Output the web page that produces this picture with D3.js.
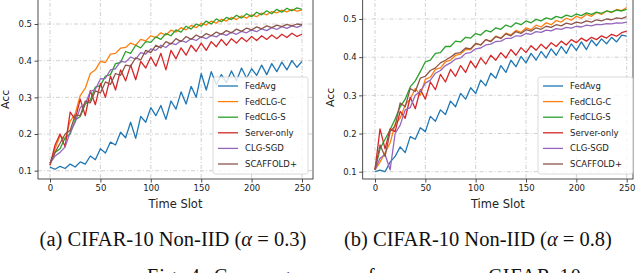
<!DOCTYPE html>
<html>
<head>
<meta charset="utf-8">
<script src="https://cdn.jsdelivr.net/npm/d3@7"></script>
<style>
  body { margin: 0; background: #fff; }
  svg { display: block; }
</style>
</head>
<body>
<svg id="fig" width="640" height="273"></svg>
<script>
// time slots (every 5th slot)
const timeSlots = d3.range(0, 251, 5);
const seriesNames = ["FedAvg", "FedCLG-C", "FedCLG-S", "Server-only", "CLG-SGD", "SCAFFOLD+"];
const seriesColors = ["#1f77b4", "#ff7f0e", "#2ca02c", "#d62728", "#9467bd", "#8c564b"];
const xTicks = [0, 50, 100, 150, 200, 250];
const yTicks = [0.1, 0.2, 0.3, 0.4, 0.5];

// (a) alpha = 0.3
const fedAvgA = [0.110, 0.104, 0.112, 0.106, 0.118, 0.110, 0.124, 0.118, 0.140, 0.130, 0.160, 0.148, 0.178, 0.170, 0.205, 0.190, 0.232, 0.188, 0.248, 0.232, 0.272, 0.250, 0.278, 0.240, 0.290, 0.268, 0.315, 0.282, 0.330, 0.300, 0.365, 0.320, 0.370, 0.335, 0.362, 0.340, 0.372, 0.345, 0.380, 0.352, 0.378, 0.360, 0.388, 0.362, 0.392, 0.370, 0.396, 0.375, 0.400, 0.382, 0.398];
const fedClgCA = [0.115, 0.160, 0.195, 0.185, 0.235, 0.255, 0.305, 0.325, 0.365, 0.375, 0.398, 0.395, 0.418, 0.420, 0.434, 0.436, 0.448, 0.442, 0.458, 0.454, 0.468, 0.463, 0.476, 0.470, 0.483, 0.478, 0.490, 0.484, 0.496, 0.490, 0.502, 0.497, 0.508, 0.502, 0.513, 0.508, 0.518, 0.512, 0.522, 0.516, 0.525, 0.520, 0.530, 0.525, 0.534, 0.530, 0.538, 0.533, 0.540, 0.535, 0.538];
const fedClgSA = [0.120, 0.150, 0.160, 0.190, 0.200, 0.238, 0.248, 0.282, 0.292, 0.328, 0.332, 0.358, 0.362, 0.392, 0.395, 0.425, 0.420, 0.442, 0.435, 0.452, 0.450, 0.465, 0.458, 0.474, 0.468, 0.484, 0.478, 0.494, 0.486, 0.500, 0.494, 0.508, 0.500, 0.514, 0.506, 0.518, 0.512, 0.524, 0.516, 0.528, 0.520, 0.532, 0.525, 0.536, 0.528, 0.540, 0.532, 0.543, 0.536, 0.544, 0.540];
const serverA = [0.115, 0.170, 0.200, 0.165, 0.260, 0.240, 0.295, 0.250, 0.318, 0.280, 0.338, 0.300, 0.358, 0.320, 0.375, 0.345, 0.388, 0.348, 0.398, 0.380, 0.410, 0.385, 0.420, 0.375, 0.428, 0.405, 0.435, 0.415, 0.442, 0.425, 0.448, 0.428, 0.452, 0.438, 0.458, 0.442, 0.460, 0.448, 0.463, 0.452, 0.466, 0.455, 0.468, 0.458, 0.470, 0.460, 0.472, 0.463, 0.475, 0.466, 0.472];
const clgSgdA = [0.120, 0.140, 0.150, 0.165, 0.205, 0.232, 0.272, 0.282, 0.316, 0.322, 0.350, 0.352, 0.375, 0.378, 0.398, 0.396, 0.410, 0.404, 0.422, 0.418, 0.432, 0.428, 0.442, 0.436, 0.448, 0.444, 0.455, 0.450, 0.460, 0.455, 0.465, 0.460, 0.469, 0.465, 0.474, 0.469, 0.477, 0.472, 0.480, 0.476, 0.484, 0.479, 0.487, 0.482, 0.490, 0.485, 0.493, 0.488, 0.495, 0.491, 0.496];
const scaffoldA = [0.120, 0.150, 0.175, 0.200, 0.210, 0.252, 0.250, 0.290, 0.285, 0.318, 0.312, 0.342, 0.335, 0.365, 0.360, 0.388, 0.385, 0.408, 0.402, 0.428, 0.422, 0.442, 0.435, 0.452, 0.445, 0.460, 0.452, 0.466, 0.458, 0.470, 0.463, 0.474, 0.468, 0.478, 0.472, 0.482, 0.476, 0.486, 0.480, 0.489, 0.484, 0.492, 0.487, 0.495, 0.490, 0.497, 0.493, 0.499, 0.495, 0.500, 0.498];

// (b) alpha = 0.8
const fedAvgB = [0.100, 0.104, 0.100, 0.125, 0.140, 0.165, 0.150, 0.192, 0.185, 0.215, 0.205, 0.245, 0.232, 0.262, 0.250, 0.285, 0.270, 0.305, 0.290, 0.320, 0.305, 0.340, 0.325, 0.358, 0.345, 0.378, 0.360, 0.392, 0.375, 0.402, 0.385, 0.410, 0.392, 0.415, 0.398, 0.422, 0.405, 0.428, 0.410, 0.435, 0.418, 0.440, 0.420, 0.445, 0.430, 0.448, 0.435, 0.452, 0.440, 0.458, 0.455];
const fedClgCB = [0.105, 0.125, 0.150, 0.175, 0.225, 0.240, 0.275, 0.290, 0.318, 0.300, 0.342, 0.348, 0.368, 0.372, 0.388, 0.392, 0.405, 0.408, 0.420, 0.420, 0.435, 0.432, 0.446, 0.442, 0.455, 0.450, 0.463, 0.458, 0.470, 0.465, 0.477, 0.472, 0.484, 0.479, 0.490, 0.485, 0.496, 0.492, 0.502, 0.497, 0.507, 0.502, 0.512, 0.507, 0.517, 0.512, 0.521, 0.517, 0.525, 0.522, 0.530];
const fedClgSB = [0.105, 0.160, 0.185, 0.210, 0.238, 0.270, 0.290, 0.322, 0.338, 0.362, 0.388, 0.392, 0.410, 0.412, 0.428, 0.428, 0.442, 0.440, 0.452, 0.450, 0.462, 0.458, 0.470, 0.466, 0.477, 0.473, 0.484, 0.479, 0.490, 0.485, 0.495, 0.490, 0.499, 0.495, 0.503, 0.499, 0.507, 0.503, 0.510, 0.506, 0.513, 0.509, 0.516, 0.512, 0.518, 0.515, 0.521, 0.518, 0.523, 0.521, 0.525];
const serverB = [0.105, 0.212, 0.160, 0.212, 0.205, 0.258, 0.240, 0.295, 0.265, 0.315, 0.290, 0.335, 0.315, 0.355, 0.335, 0.368, 0.350, 0.378, 0.360, 0.390, 0.372, 0.398, 0.382, 0.405, 0.392, 0.412, 0.398, 0.420, 0.405, 0.425, 0.412, 0.430, 0.418, 0.434, 0.422, 0.438, 0.428, 0.442, 0.432, 0.446, 0.438, 0.450, 0.442, 0.452, 0.446, 0.456, 0.450, 0.460, 0.455, 0.464, 0.468];
const clgSgdB = [0.105, 0.135, 0.145, 0.105, 0.200, 0.222, 0.262, 0.268, 0.300, 0.310, 0.332, 0.340, 0.358, 0.365, 0.378, 0.385, 0.395, 0.398, 0.410, 0.412, 0.422, 0.424, 0.432, 0.434, 0.441, 0.442, 0.449, 0.449, 0.456, 0.455, 0.462, 0.460, 0.467, 0.465, 0.471, 0.469, 0.475, 0.473, 0.478, 0.476, 0.481, 0.479, 0.484, 0.482, 0.486, 0.485, 0.488, 0.487, 0.490, 0.489, 0.492];
const scaffoldB = [0.105, 0.170, 0.140, 0.205, 0.220, 0.280, 0.270, 0.318, 0.310, 0.345, 0.350, 0.365, 0.372, 0.385, 0.392, 0.400, 0.410, 0.412, 0.424, 0.422, 0.436, 0.432, 0.446, 0.441, 0.454, 0.449, 0.461, 0.456, 0.467, 0.462, 0.472, 0.468, 0.477, 0.473, 0.481, 0.478, 0.485, 0.482, 0.489, 0.486, 0.492, 0.489, 0.495, 0.492, 0.498, 0.495, 0.500, 0.498, 0.503, 0.501, 0.506];

const panelA = [fedAvgA, fedClgCA, fedClgSA, serverA, clgSgdA, scaffoldA];
const panelB = [fedAvgB, fedClgCB, fedClgSB, serverB, clgSgdB, scaffoldB];

const svg = d3.select("#fig");
const tickFont = "'DejaVu Sans', sans-serif";
const serifFont = "'Liberation Serif', 'Times New Roman', serif";

function drawPanel(series, box, legendBox, caption) {
  const g = svg.append("g");

  const x = d3.scaleLinear().domain([0, 250]).range([box.x0, box.x250]);
  const y = d3.scaleLinear().domain([0.1, 0.5]).range([box.y01, box.y05]);

  // grid
  g.selectAll(".gx").data(xTicks).enter().append("line")
      .attr("x1", d => x(d)).attr("x2", d => x(d))
      .attr("y1", box.top).attr("y2", box.bottom)
      .attr("stroke", "#c4c4c4").attr("stroke-width", 0.8)
      .attr("stroke-dasharray", "4,2,1,2");
  g.selectAll(".gy").data(yTicks).enter().append("line")
      .attr("x1", box.left).attr("x2", box.right)
      .attr("y1", d => y(d)).attr("y2", d => y(d))
      .attr("stroke", "#c4c4c4").attr("stroke-width", 0.8)
      .attr("stroke-dasharray", "4,2,1,2");

  // lines
  const line = d3.line()
      .x((d, i) => x(timeSlots[i]))
      .y(d => y(d));
  series.forEach((s, k) => {
    g.append("path")
        .datum(s)
        .attr("fill", "none")
        .attr("stroke", seriesColors[k])
        .attr("stroke-width", 1.3)
        .attr("stroke-linejoin", "round")
        .attr("d", line);
  });

  // frame
  g.append("rect")
      .attr("x", box.left).attr("y", box.top)
      .attr("width", box.right - box.left).attr("height", box.bottom - box.top)
      .attr("fill", "none").attr("stroke", "#222").attr("stroke-width", 0.8);

  // x axis
  const xAxis = g.append("g")
      .attr("transform", `translate(0,${box.bottom})`)
      .call(d3.axisBottom(x).tickValues(xTicks).tickSize(3.5).tickPadding(2.5));
  xAxis.select(".domain").remove();
  xAxis.selectAll("text").style("font-family", tickFont).style("font-size", "8.5px").attr("fill", "#222");
  xAxis.selectAll("line").attr("stroke", "#222").attr("stroke-width", 0.8);

  // y axis
  const yAxis = g.append("g")
      .attr("transform", `translate(${box.left},0)`)
      .call(d3.axisLeft(y).tickValues(yTicks).tickFormat(d3.format(".1f")).tickSize(3.5).tickPadding(2.5));
  yAxis.select(".domain").remove();
  yAxis.selectAll("text").style("font-family", tickFont).style("font-size", "8.5px").attr("fill", "#222");
  yAxis.selectAll("line").attr("stroke", "#222").attr("stroke-width", 0.8);

  // axis labels
  g.append("text")
      .attr("x", (box.left + box.right) / 2)
      .attr("y", box.bottom + 29)
      .attr("text-anchor", "middle")
      .style("font-family", tickFont).style("font-size", "11.5px").attr("fill", "#222")
      .text("Time Slot");
  g.append("text")
      .attr("transform", `translate(${box.left - 29},${(box.y01 + box.y05) / 2 + 2}) rotate(-90)`)
      .attr("text-anchor", "middle")
      .style("font-family", tickFont).style("font-size", "11px").attr("fill", "#222")
      .text("Acc");

  // legend
  const lg = g.append("g");
  lg.append("rect")
      .attr("x", legendBox.x).attr("y", legendBox.y)
      .attr("width", legendBox.w).attr("height", legendBox.h)
      .attr("rx", 2.5)
      .attr("fill", "rgba(255,255,255,0.8)")
      .attr("stroke", "#d0d0d0").attr("stroke-width", 0.8);
  seriesNames.forEach((name, k) => {
    const yy = legendBox.y + 9 + k * 15.6;
    lg.append("line")
        .attr("x1", legendBox.x + 5).attr("x2", legendBox.x + 25)
        .attr("y1", yy).attr("y2", yy)
        .attr("stroke", seriesColors[k]).attr("stroke-width", 1.3);
    lg.append("text")
        .attr("x", legendBox.x + 32).attr("y", yy + 3)
        .style("font-family", tickFont).style("font-size", "8.5px").attr("fill", "#222")
        .text(name);
  });

  // sub caption
  svg.append("text")
      .attr("x", caption.x).attr("y", 246)
      .attr("text-anchor", "middle")
      .style("font-family", serifFont)
      .style("font-size", "20.5px").attr("fill", "#111")
      .html(caption.text);
}

drawPanel(panelA,
  { left: 38, right: 313, top: -6, bottom: 179, x0: 50, x250: 302, y01: 170.7, y05: 24 },
  { x: 213, y: 77, w: 95, h: 97 },
  { x: 173, text: "(a) CIFAR-10 Non-IID (<tspan font-style='italic'>α</tspan> = 0.3)" });

drawPanel(panelB,
  { left: 362.7, right: 633, top: -6, bottom: 179, x0: 375, x250: 626.7, y01: 171.7, y05: 19 },
  { x: 538, y: 77, w: 95, h: 97 },
  { x: 478, text: "(b) CIFAR-10 Non-IID (<tspan font-style='italic'>α</tspan> = 0.8)" });

// figure caption (only the top of it shows in the source image)
svg.append("text")
    .attr("x", 147).attr("y", 283)
    .attr("textLength", 440)
    .style("font-family", serifFont)
    .style("font-size", "20px").attr("fill", "#111")
    .text("Fig. 4: Convergence performance on CIFAR-10.");
</script>
</body>
</html>
